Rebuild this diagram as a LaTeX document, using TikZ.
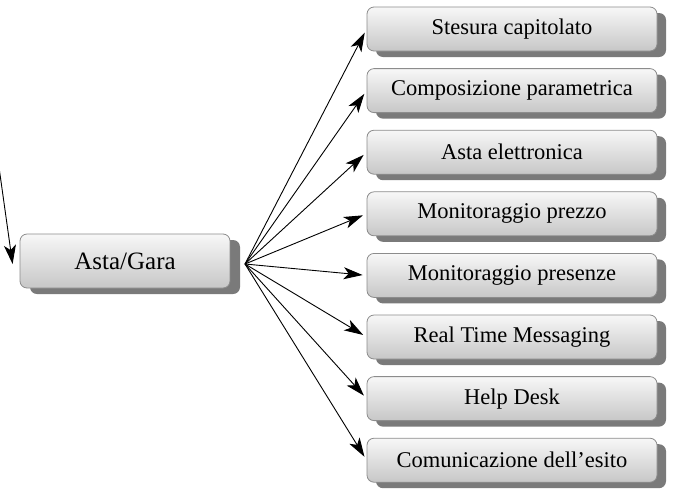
\documentclass[tikz,border=0pt]{standalone}
\usepackage{fontspec}
\setmainfont{Liberation Serif}
\usetikzlibrary{arrows.meta,shadows}
\begin{document}
\begin{tikzpicture}[x=1pt,y=-1pt,
  boxbase/.style={rectangle, rounded corners=7pt, draw=black!45, line width=0.8pt,
    top color=black!3, bottom color=black!22, font=\fontsize{22.5}{26}\selectfont,
    inner sep=0pt},
  bigbox/.style={boxbase, minimum width=210pt, minimum height=54pt,
    font=\fontsize{25}{28}\selectfont,
    drop shadow={shadow xshift=10pt, shadow yshift=-6pt, fill=black!52, opacity=1}},
  itembox/.style={boxbase, minimum width=290pt, minimum height=44pt,
    drop shadow={shadow xshift=9pt, shadow yshift=-6pt, fill=black!52, opacity=1}},
  arr/.style={-{Stealth[length=19pt,width=12pt,inset=5pt]}, line width=0.9pt, black}]
\useasboundingbox (0,0) rectangle (688,499);
\node[bigbox] (asta) at (125,261) {Asta/Gara};
\coordinate (hub) at (245,264);
\coordinate (incoming) at (-2,160);
\foreach \name/\txt [count=\i from 0] in {
  s1/Stesura capitolato,
  s2/Composizione parametrica,
  s3/Asta elettronica,
  s4/Monitoraggio prezzo,
  s5/Monitoraggio presenze,
  s6/Real Time Messaging,
  s7/Help Desk,
  s8/Comunicazione dell’esito} {
  \node[itembox] (\name) at (512,{29+\i*61.6}) {\txt};
}
\foreach \name in {s1,s2,s3,s4,s5,s6,s7,s8}
  \draw[arr, shorten >=4pt] (hub) -- (\name.west);
\draw[arr] (incoming) -- ([xshift=-7pt,yshift=-3pt]asta.west);
\end{tikzpicture}
\end{document}
